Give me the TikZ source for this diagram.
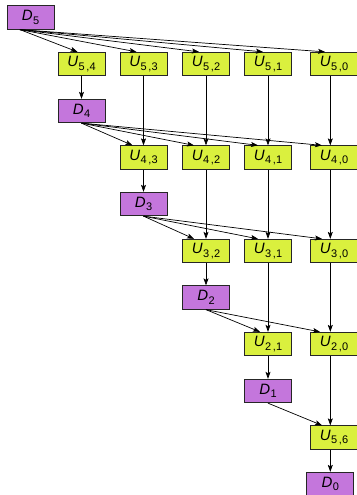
\documentclass[tikz,border=0pt]{standalone}
\usepackage{fontspec}
\setmainfont{Liberation Sans}
\usetikzlibrary{arrows.meta}
\definecolor{dcol}{RGB}{196,118,220}
\definecolor{ucol}{RGB}{218,240,62}
\newcommand{\lab}[2]{\textit{#1}\kern0.3pt\raisebox{-3.5pt}{\fontsize{11}{11}\selectfont #2}}
\begin{document}
\begin{tikzpicture}[x=1pt,y={(0pt,-1pt)},
  box/.style={draw=black!85, line width=0.8pt, minimum width=47pt, minimum height=23.5pt, inner sep=0pt, font=\fontsize{15}{15}\selectfont},
  dbox/.style={box, fill=dcol},
  ubox/.style={box, fill=ucol},
  arr/.style={-{Stealth[length=7pt,width=5pt,inset=1.5pt]}, line width=0.7pt}]
\useasboundingbox (0,0) rectangle (356,495);
% columns and rows
\def\ca{30.5}\def\cb{81.5}\def\cc{143.5}\def\cd{206}\def\ce{268}\def\cf{334}\def\cg{330.3}
\node[dbox] (D5) at (\ca,17.5) {\lab{D}{5}};
\node[ubox] (U54) at (\cb,64) {\lab{U}{5\,,4}};
\node[ubox] (U53) at (\cc,64) {\lab{U}{5\,,3}};
\node[ubox] (U52) at (\cd,64) {\lab{U}{5\,,2}};
\node[ubox] (U51) at (\ce,64) {\lab{U}{5\,,1}};
\node[ubox] (U50) at (\cf,64) {\lab{U}{5\,,0}};
\node[dbox] (D4) at (\cb,111) {\lab{D}{4}};
\node[ubox] (U43) at (\cc,157.5) {\lab{U}{4\,,3}};
\node[ubox] (U42) at (\cd,157.5) {\lab{U}{4\,,2}};
\node[ubox] (U41) at (\ce,157.5) {\lab{U}{4\,,1}};
\node[ubox] (U40) at (\cf,157.5) {\lab{U}{4\,,0}};
\node[dbox] (D3) at (\cc,204) {\lab{D}{3}};
\node[ubox] (U32) at (\cd,251) {\lab{U}{3\,,2}};
\node[ubox] (U31) at (\ce,251) {\lab{U}{3\,,1}};
\node[ubox] (U30) at (\cf,251) {\lab{U}{3\,,0}};
\node[dbox] (D2) at (\cd,297.5) {\lab{D}{2}};
\node[ubox] (U21) at (\ce,344) {\lab{U}{2\,,1}};
\node[ubox] (U20) at (\cf,344) {\lab{U}{2\,,0}};
\node[dbox] (D1) at (\ce,391) {\lab{D}{1}};
\node[ubox] (U56) at (\cf,437.5) {\lab{U}{5\,,6}};
\node[dbox] (D0) at (\cg,484) {\lab{D}{0}};
% fans from D5
\foreach \t/\s in {U54/4, U53/7, U52/7, U51/5, U50/9}
  \draw[arr] ([xshift=-10.5pt]D5.south) -- ([xshift=-\s pt]\t.north);
% fans from D4
\foreach \t/\s in {U43/11, U42/12, U41/10, U40/12}
  \draw[arr] (D4.south) -- ([xshift=-\s pt]\t.north);
% fans from D3
\foreach \t/\s in {U32/12, U31/10, U30/12}
  \draw[arr] (D3.south) -- ([xshift=-\s pt]\t.north);
% fans from D2
\foreach \t/\s in {U21/8, U20/14}
  \draw[arr] (D2.south) -- ([xshift=-\s pt]\t.north);
\draw[arr] (D1.south) -- ([xshift=-12pt]U56.north);
% verticals
\draw[arr] (U54) -- (D4);
\draw[arr] (U43) -- (D3);
\draw[arr] (U32) -- (D2);
\draw[arr] (U21) -- (D1);
\draw[arr] (U53) -- (U43);
\draw[arr] (U52) -- (U42);
\draw[arr] (U42) -- (U32);
\draw[arr] (U51) -- (U41);
\draw[arr] (U41) -- (U31);
\draw[arr] (U31) -- (U21);
\draw[arr] ([xshift=-3.7pt]U50.south) -- ([xshift=-3.7pt]U40.north);
\draw[arr] ([xshift=-3.7pt]U40.south) -- ([xshift=-3.7pt]U30.north);
\draw[arr] ([xshift=-3.7pt]U30.south) -- ([xshift=-3.7pt]U20.north);
\draw[arr] ([xshift=-3.7pt]U20.south) -- ([xshift=-3.7pt]U56.north);
\draw[arr] ([xshift=-3.7pt]U56.south) -- (D0.north);
\end{tikzpicture}
\end{document}
